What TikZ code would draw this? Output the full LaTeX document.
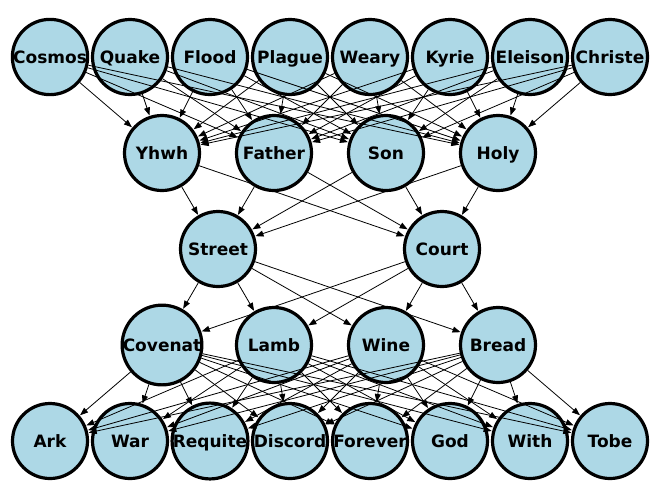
\documentclass[tikz,border=0pt]{standalone}
\usepackage{fontspec}
\setmainfont{DejaVu Sans}
\usetikzlibrary{arrows.meta}
\definecolor{lightblue}{HTML}{ADD8E6}
\tikzset{
  word/.style={circle, draw=black, line width=3.2pt, fill=lightblue, minimum size=75pt, inner sep=0pt,
    text height=14pt, text depth=1.6pt, font=\fontsize{17}{20}\selectfont\bfseries},
  link/.style={-{Triangle[length=8pt,width=6pt]}, line width=0.8pt, shorten >=0.5pt}
}
\begin{document}
\begin{tikzpicture}[x=1pt,y=-1pt]
\useasboundingbox (0,0) rectangle (660,499);
% top row
\foreach \n/\t [count=\i] in {cosmos/Cosmos,quake/Quake,flood/Flood,plague/Plague,weary/Weary,kyrie/Kyrie,eleison/Eleison,christe/Christe}
  \node[word] (\n) at ({50+80*(\i-1)},57) {\t};
% second row
\foreach \n/\t [count=\i] in {yhwh/Yhwh,father/Father,son/Son,holy/Holy}
  \node[word] (\n) at ({162+112*(\i-1)},153) {\t};
% middle
\node[word] (street) at (218,249) {Street};
\node[word] (court) at (442,249) {Court};
% fourth row
\foreach \n/\t [count=\i] in {covenat/Covenat,lamb/Lamb,wine/Wine,bread/Bread}
  \node[word] (\n) at ({162+112*(\i-1)},345) {\t};
% bottom row
\foreach \n/\t [count=\i] in {ark/Ark,war/War,requite/Requite,discord/Discord,forever/Forever,god/God,with/With,tobe/Tobe}
  \node[word] (\n) at ({50+80*(\i-1)},441) {\t};
% edges
\foreach \a in {cosmos,quake,flood,plague,weary,kyrie,eleison,christe}
  \foreach \b in {yhwh,father,son,holy}
    \draw[link] (\a) -- (\b);
\foreach \a in {yhwh,father,son,holy}
  \foreach \b in {street,court}
    \draw[link] (\a) -- (\b);
\foreach \a in {street,court}
  \foreach \b in {covenat,lamb,wine,bread}
    \draw[link] (\a) -- (\b);
\foreach \a in {covenat,lamb,wine,bread}
  \foreach \b in {ark,war,requite,discord,forever,god,with,tobe}
    \draw[link] (\a) -- (\b);
\end{tikzpicture}
\end{document}
